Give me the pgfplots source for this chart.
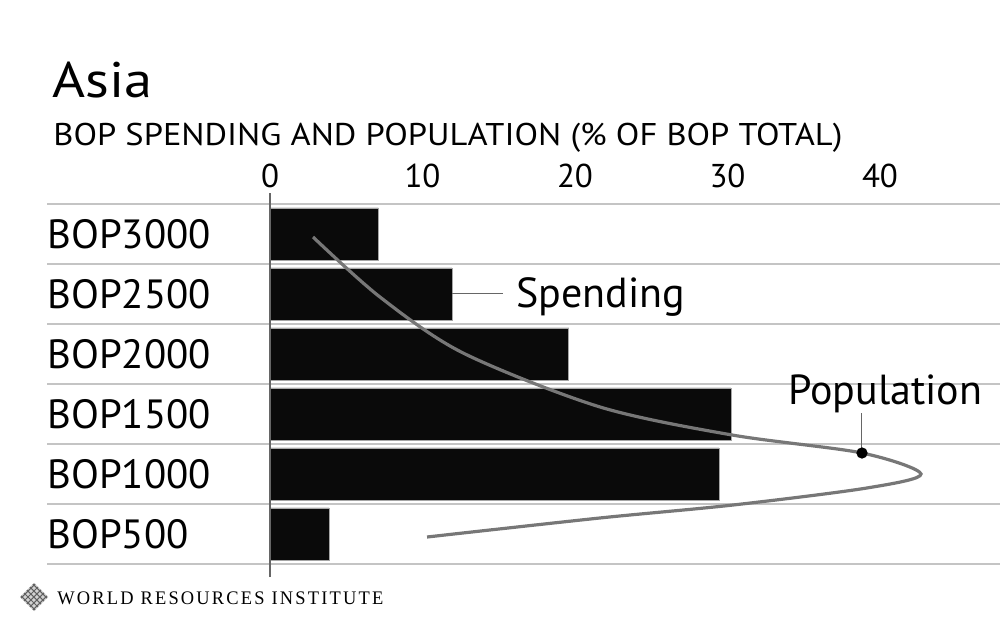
\documentclass[border=0pt]{standalone}
\usepackage{pgfplots}
\pgfplotsset{compat=1.18}
\usepackage{graphicx}
\usepackage{fontspec}
\setmainfont{PT Sans}
\newfontfamily\wriserif[LetterSpace=12]{Liberation Serif}
\definecolor{barfill}{HTML}{0A0A0A}
\definecolor{popline}{HTML}{777777}
\definecolor{gridc}{HTML}{C4C4C4}
\definecolor{axisc}{HTML}{666666}
\newcommand\lbl{\fontsize{20.4}{24}\selectfont}
\newcommand\annot{\fontsize{21}{24}\selectfont}
\begin{document}
\begin{tikzpicture}
\begin{axis}[
  x=7.625pt, y=30pt,
  xmin=0, xmax=47.87, ymin=-0.5, ymax=5.5,
  axis line style={draw=none},
  clip=false,
  xtick={0,10,20,30,40},
  xticklabel pos=upper,
  xticklabel style={inner sep=0pt, yshift=8pt, font=\fontsize{16.5}{18}\selectfont},
  ytick={0,1,2,3,4,5},
  yticklabels={BOP500,BOP1000,BOP1500,BOP2000,BOP2500,BOP3000},
  yticklabel style={anchor=west, inner sep=0pt, xshift=-111.5pt, font=\lbl},
  major tick length=0pt,
  /pgf/number format/assume math mode=true,
]
% grid lines
\pgfplotsinvokeforeach{-0.5,0.5,1.5,2.5,3.5,4.5,5.5}{
  \draw[gridc, line width=0.9pt] (axis cs:-14.62,#1) -- (axis cs:47.87,#1);
}
% spending bars
\addplot[xbar, bar width=26pt, fill=barfill, draw=gray!70, line width=0.4pt]
  coordinates {(3.87,0) (29.44,1) (30.23,2) (19.6,3) (11.93,4) (7.1,5)};
% left axis line
\draw[axisc, line width=0.8pt] (axis cs:0,-0.717) -- (axis cs:0,5.683);
% population curve
\addplot[popline, line width=1.6pt, smooth, tension=0.5, mark=none]
  coordinates {
  (2.82,4.95) (7.21,3.95) (12.66,3.017) (21.64,2.117) (30.30,1.65)
  (38.82,1.35) (42.69,1.0) (39.15,0.767) (30.36,0.483) (21.64,0.267)
  (10.30,-0.05)};
% population marker and leader
\draw[axisc, line width=0.5pt] (axis cs:38.82,1.35) -- (axis cs:38.82,2.017);
\addplot[only marks, mark=*, mark size=2.6pt, black] coordinates {(38.82,1.35)};
\node[anchor=base west, inner sep=0pt, font=\annot] at (axis cs:33.97,2.15) {Population};
% spending leader
\draw[axisc, line width=0.5pt] (axis cs:11.93,4.0) -- (axis cs:15.28,4.0);
\node[anchor=base west, inner sep=0pt, font=\annot] at (axis cs:16.13,3.767) {Spending};
% titles
\node[anchor=base west, inner sep=0pt] at (axis cs:-14.30,7.283)
  {\resizebox{50pt}{\height}{\fontsize{25}{30}\selectfont Asia}};
\node[anchor=base west, inner sep=0pt] at (axis cs:-14.23,6.483)
  {\resizebox{394.5pt}{\height}{\fontsize{15.7}{18}\selectfont BOP SPENDING AND POPULATION (\% OF BOP TOTAL)}};
% footer
\node[anchor=base west, inner sep=0pt] at (axis cs:-13.97,-1.167)
  {\resizebox{163pt}{\height}{\wriserif\fontsize{9.6}{11}\selectfont WORLD RESOURCES INSTITUTE}};
\coordinate (logo) at (axis cs:-15.48,-1.05);
\coordinate (TL) at (axis cs:-17.705,8.9);
\coordinate (BR) at (axis cs:47.87,-1.5);
\end{axis}
% logo
\begin{scope}[shift={(logo)}, rotate=45]
  \fill[gray!35] (-5.3pt,-5.3pt) rectangle (5.3pt,5.3pt);
  \foreach \i in {-4.2,-2.1,0,2.1,4.2} {
    \draw[gray!75!black, line width=0.5pt] (\i pt,-5.3pt) -- (\i pt,5.3pt);
    \draw[gray!75!black, line width=0.5pt] (-5.3pt,\i pt) -- (5.3pt,\i pt);
  }
  \draw[white, line width=0.4pt] (-5.3pt,-5.3pt) rectangle (5.3pt,5.3pt);
\end{scope}
\pgfresetboundingbox
\useasboundingbox (TL) rectangle (BR);
\end{tikzpicture}
\end{document}
